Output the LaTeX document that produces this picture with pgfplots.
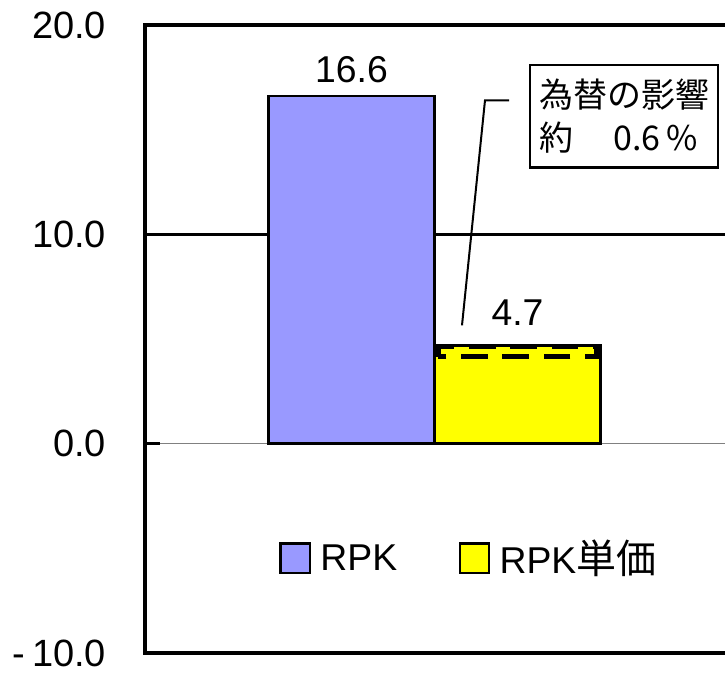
\documentclass[border=0pt]{standalone}
\usepackage{fontspec}
\setmainfont{Liberation Sans}
\newfontfamily\cjk{Noto Sans CJK JP}
\usepackage{pgfplots}
\pgfplotsset{compat=1.18}
\definecolor{rpk}{HTML}{9999FF}
\definecolor{ylw}{HTML}{FFFF00}
\pgfplotsset{sq legend/.style={legend image code/.code={\draw[##1, line width=1.8pt] (0pt,-11pt) rectangle (22pt,11pt);}}}
\begin{document}
\begin{tikzpicture}
\begin{axis}[
  name=ax, at={(0,0)}, anchor=south west,
  scale only axis, width=435pt, height=471pt,
  xmin=-290, xmax=290, ymin=-10, ymax=20,
  xtick=\empty,
  ytick={-10,0,10,20}, ytick pos=left,
  yticklabels={-\hspace{5pt}10.0, 0.0, 10.0, 20.0},
  /pgf/number format/assume math mode=true,
  yticklabel style={font=\fontsize{28.5}{34}\selectfont, anchor=east, inner sep=0pt, xshift=-29pt},
  tick align=inside, major tick length=11pt,
  ytick style={black, line width=1.5pt},
  axis line style={draw=none},
  bar width=166, bar shift=0pt,
  clip=false,
  legend style={at={(0.559,0.151)}, anchor=center, draw=none, fill=none,
    font=\fontsize{28}{34}\selectfont, legend columns=2,
    /tikz/every odd column/.append style={column sep=5pt},
    /tikz/every even column/.append style={column sep=44pt}},
  legend cell align=left,
]
\draw[gray, line width=0.9pt] (axis cs:-290,0) -- (axis cs:290,0);
\draw[black, line width=2pt] (axis cs:-290,10) -- (axis cs:290,10);
\draw[black, line width=2pt] (axis cs:-290,0) -- (axis cs:-275.3,0);

\addplot[ybar, fill=rpk, draw=black, line width=2pt,
  nodes near coords, /pgf/number format/.cd, fixed, precision=1, fixed zerofill, /pgfplots/.cd,
  nodes near coords style={font=\fontsize{28}{34}\selectfont, text=black, yshift=6pt},
  sq legend]
  coordinates {(-83.5,16.6)};
\addplot[ybar, fill=ylw, draw=black, line width=2pt,
  nodes near coords, /pgf/number format/.cd, fixed, precision=1, fixed zerofill, /pgfplots/.cd,
  nodes near coords style={font=\fontsize{28}{34}\selectfont, text=black, yshift=10.5pt},
  sq legend]
  coordinates {(82.5,4.7)};
\addplot[forget plot, sharp plot, no marks, draw=black, line width=3.8pt,
  dash pattern=on 20pt off 11pt]
  coordinates {(3,4.15) (3,4.65) (162,4.65) (162,4.15) (3,4.15)};

\draw[black, line width=1.5pt] (axis cs:27,5.65) -- (axis cs:50,16.4) -- (axis cs:74,16.4);
\node[draw=black, line width=1.8pt, fill=white, inner xsep=7pt, inner ysep=5pt,
  text width=127pt, minimum height=77pt, align=left,
  font=\cjk\fontsize{25.5}{32}\selectfont] at (axis cs:189,15.65)
  {為替の影響\\約\hspace{30pt}0.6\,\%};

\draw[black, line width=2.3pt] (rel axis cs:1,1) -- (rel axis cs:0,1) -- (rel axis cs:0,0) -- (rel axis cs:1,0);
\legend{RPK, RPK{\cjk\fontsize{30}{34}\selectfont 単価}}
\end{axis}
\pgfresetboundingbox
\useasboundingbox (-108.75pt,-15pt) rectangle (435pt,489.75pt);
\end{tikzpicture}
\end{document}
